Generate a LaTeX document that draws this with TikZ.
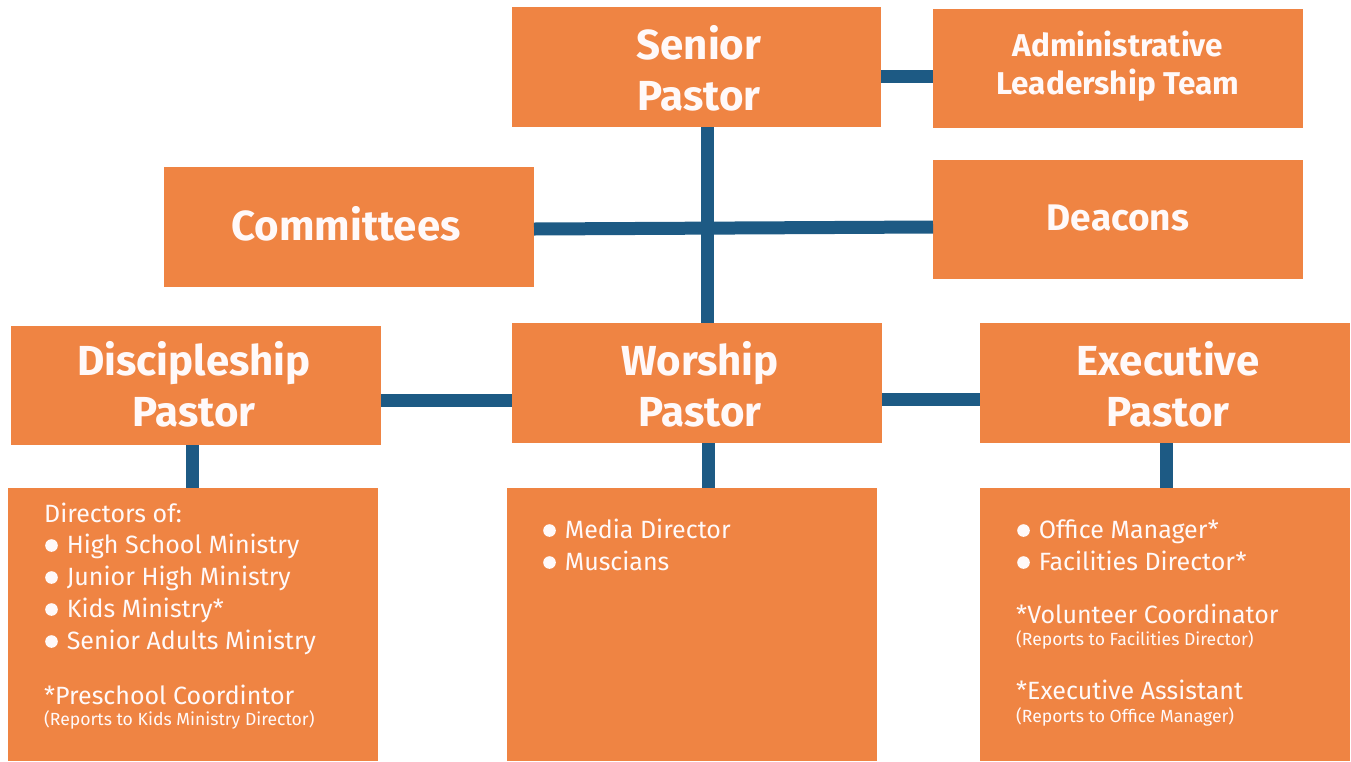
\documentclass[tikz,border=0pt]{standalone}
\usepackage{fontspec}
\setmainfont{Fira Sans}
\definecolor{boxorange}{HTML}{EF8443}
\definecolor{linkblue}{HTML}{1D5A84}
\definecolor{txtwhite}{HTML}{FFF9F9}
\newcommand{\bul}{\tikz[baseline=0pt,x=1pt,y=1pt]\fill[txtwhite] (6.5pt,7.5pt) circle (6.3pt);\hspace{9pt}}
\begin{document}
\begin{tikzpicture}[x=1pt,y=-1pt,
  orgbox/.style={fill=boxorange,draw=none,inner sep=0pt},
  link/.style={draw=linkblue,line width=13pt},
  ttl/.style={text=txtwhite,font=\fontsize{42}{51}\selectfont\bfseries,align=center},
  body/.style={text=txtwhite,font=\fontsize{25}{32}\selectfont,inner sep=0pt,anchor=base west},
  note/.style={text=txtwhite,font=\fontsize{17.6}{20}\selectfont,inner sep=0pt,anchor=base west}]
\useasboundingbox (0,0) rectangle (1351,761);
% boxes
\path[orgbox] (512,7) rectangle (881,127);
\path[orgbox] (933,9) rectangle (1303,128);
\path[orgbox] (164,167) rectangle (534,287);
\path[orgbox] (933,160) rectangle (1303,279);
\path[orgbox] (11,326) rectangle (381,445);
\path[orgbox] (512,323) rectangle (882,443);
\path[orgbox] (980,323) rectangle (1350,443);
\path[orgbox] (8,488) rectangle (378,761);
\path[orgbox] (507,488) rectangle (877,761);
\path[orgbox] (980,488) rectangle (1350,761);
% link coordinates
\coordinate (spR) at (881,76);
\coordinate (altL) at (933,76);
\coordinate (spB) at (707,127);
\coordinate (worT) at (707,323);
\coordinate (comR) at (534,229);
\coordinate (deaL) at (933,227);
\coordinate (disR) at (381,400);
\coordinate (worL) at (512,400);
\coordinate (worR) at (882,399);
\coordinate (exeL) at (980,399);
\coordinate (disB) at (192,445);
\coordinate (ldT) at (192,488);
\coordinate (worB) at (708,443);
\coordinate (mdT) at (708,488);
\coordinate (exeB) at (1166,443);
\coordinate (rdT) at (1166,488);
\draw[link] (spR) -- (altL);
\draw[link] (spB) -- (worT);
\draw[link] (comR) -- (deaL);
\draw[link] (disR) -- (worL);
\draw[link] (worR) -- (exeL);
\draw[link] (disB) -- (ldT);
\draw[link] (worB) -- (mdT);
\draw[link] (exeB) -- (rdT);
% titles
\node[ttl] (spT) at (699,68) {Senior\\Pastor};
\node[ttl,font=\fontsize{31.5}{38}\selectfont\bfseries] (altT) at (1118,66) {Administrative\\Leadership Team};
\node[ttl] (comT) at (346,224) {Committees};
\node[ttl,font=\fontsize{37}{40}\selectfont\bfseries] (deaT) at (1118,218) {Deacons};
\node[ttl] (disT) at (194,384) {Discipleship\\Pastor};
\node[ttl] (worT2) at (700,384) {Worship\\Pastor};
\node[ttl] (exeT) at (1168,384) {Executive\\Pastor};
% left details
\node[body] (ld1) at (44,522) {Directors of:};
\node[body] (ld2) at (45,553) {\bul High School Ministry};
\node[body] (ld3) at (45,585) {\bul Junior High Ministry};
\node[body] (ld4) at (45,617) {\bul Kids Ministry*};
\node[body] (ld5) at (45,649) {\bul Senior Adults Ministry};
\node[body] (ld6) at (44,704) {*Preschool Coordintor};
\node[note] (ld7) at (44,725) {(Reports to Kids Ministry Director)};
% middle details
\node[body] (md1) at (543,538) {\bul Media Director};
\node[body] (md2) at (543,570) {\bul Muscians};
% right details
\node[body] (rd1) at (1017,538) {\bul Office Manager*};
\node[body] (rd2) at (1017,570) {\bul Facilities Director*};
\node[body] (rd3) at (1016,623) {*Volunteer Coordinator};
\node[note] (rd4) at (1016,645) {(Reports to Facilities Director)};
\node[body] (rd5) at (1016,699) {*Executive Assistant};
\node[note] (rd6) at (1016,722) {(Reports to Office Manager)};
\end{tikzpicture}
\end{document}
